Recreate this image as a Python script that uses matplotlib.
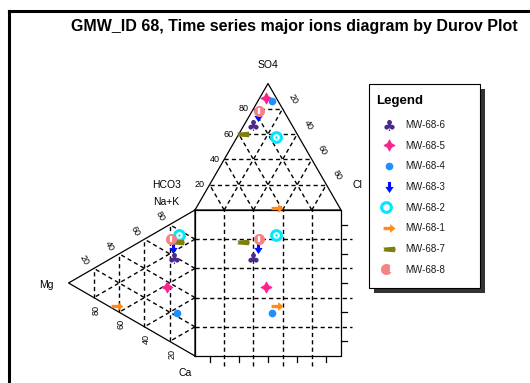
import numpy as np
import matplotlib
matplotlib.use('Agg')
import matplotlib.pyplot as plt
from matplotlib.lines import Line2D
from matplotlib.patches import Rectangle
from matplotlib.path import Path
from matplotlib.legend_handler import HandlerTuple

plt.rcParams['font.family'] = ['Liberation Sans', 'DejaVu Sans']

# samples in legend order
samples = ['MW-68-6', 'MW-68-5', 'MW-68-4', 'MW-68-3', 'MW-68-2', 'MW-68-1', 'MW-68-7', 'MW-68-8']
# cations (% meq/l)
ca  = [24.6, 41.7, 63.8, 17.0, 10.6, 34.6, 15.1, 10.4]
mg  = [16.9, 22.4, 14.0, 17.6, 12.9, 61.9, 13.2, 19.0]
nak = [58.5, 35.9, 22.2, 65.4, 76.5,  3.5, 71.7, 70.6]
# anions (% meq/l)
hco3 = [26.5,  7.0,  4.2, 19.8, 15.4, 42.9, 37.0, 17.3]
so4  = [67.2, 88.8, 86.2, 74.6, 57.8,  1.8, 59.9, 78.3]
cl   = [ 6.3,  4.2,  9.6,  5.6, 26.8, 55.3,  3.1,  4.4]

grid_vals = [20, 40, 60, 80]
minor_vals = [10, 30, 50, 70, 90]
title = 'GMW_ID 68, Time series major ions diagram by Durov Plot'

H = np.sqrt(3) / 2


def anion_xy(s, c):
    # top triangle: HCO3 lower left, Cl lower right, SO4 apex
    return c + s / 2.0, 100 + s * H


def cation_xy(m, n):
    # left triangle: Ca bottom, Na+K top, Mg apex on the left
    return -m * H, n + m / 2.0


def poly(verts):
    verts = list(verts) + [verts[0]]
    codes = [Path.MOVETO] + [Path.LINETO] * (len(verts) - 2) + [Path.CLOSEPOLY]
    return Path(verts, codes)


arrow_right = poly([(-1, 0.28), (0.1, 0.28), (0.1, 0.75), (1, 0), (0.1, -0.75), (0.1, -0.28), (-1, -0.28)])
arrow_down = poly([(-0.28, 1), (0.28, 1), (0.28, 0.1), (0.75, 0.1), (0, -1), (-0.75, 0.1), (-0.28, 0.1)])
pill = poly([(-1, -0.3), (0.85, -0.45), (1, 0), (0.85, 0.45), (-1, 0.3), (-0.8, 0)])

styles = [
    [dict(marker='$\u2663$', color='#4b2a8c', ms=8, mew=0)],
    [dict(marker=(4, 1, 0), color='#ff1f8f', ms=8, mew=0.6)],
    [dict(marker='o', color='#1e8fff', ms=5.5, mew=0)],
    [dict(marker=arrow_down, color='#0010ff', ms=8, mew=0)],
    [dict(marker='o', mfc='white', mec='#00e8ff', ms=7, mew=2.2),
     dict(marker='o', color='#00e8ff', ms=1.8, mew=0)],
    [dict(marker=arrow_right, color='#ff8c1a', ms=8.5, mew=0)],
    [dict(marker=pill, color='#7f7f10', ms=9, mew=0)],
    [dict(marker='o', color='#f48484', ms=8, mew=0),
     dict(marker='|', color='white', ms=4.5, mew=1.6)],
]

W, Hpx = 530, 383
sc = 1.46  # pixels per percent
fig = plt.figure(figsize=(W / 100, Hpx / 100), dpi=100)
ax = fig.add_axes([0, 0, 1, 1])
ax.set_xlim(-195 / sc, (W - 195) / sc)
ax.set_ylim((356 - Hpx) / sc, 356 / sc)
ax.axis('off')

solid = dict(color='black', lw=0.9)
dashed = dict(color='black', lw=1.0, ls=(0, (3, 2.3)))

# outlines
tx, ty = zip(anion_xy(0, 0), anion_xy(100, 0), anion_xy(0, 100), anion_xy(0, 0))
ax.plot(tx, ty, **solid)
lx, ly = zip(cation_xy(0, 0), cation_xy(100, 0), cation_xy(0, 100), cation_xy(0, 0))
ax.plot(lx, ly, **solid)
ax.plot([0, 100, 100, 0, 0], [0, 0, 100, 100, 0], **solid)

# ternary grids
for v in grid_vals:
    for a, b in [((v, 0), (v, 100 - v)), ((0, v), (100 - v, v)), ((0, 100 - v), (100 - v, 0))]:
        p, q = anion_xy(*a), anion_xy(*b)
        ax.plot([p[0], q[0]], [p[1], q[1]], **dashed)
        p, q = cation_xy(*a), cation_xy(*b)
        ax.plot([p[0], q[0]], [p[1], q[1]], **dashed)
    # square grid
    ax.plot([v, v], [-6.8, 100], **dashed)
    ax.plot([0, 107.5], [v, v], **dashed)

for v in minor_vals:
    ax.plot([v, v], [0, -4.1], **solid)
    ax.plot([100, 104.1], [v, v], **solid)

# tick labels
fs_t = 6.5
for v in grid_vals:
    x, y = anion_xy(v, 0)
    ax.text(x - 3.3, y, str(v), ha='right', va='center', fontsize=fs_t)
    x, y = anion_xy(100 - v, v)
    ax.text(x + 7.4, y + 6.4, str(v), ha='center', va='center', fontsize=fs_t, rotation=-60)
    x, y = cation_xy(100 - v, v)
    ax.text(x - 6.4, y + 5.5, str(v), ha='center', va='center', fontsize=fs_t, rotation=-60)
    x, y = cation_xy(v, 0)
    ax.text(x + 1.5, y - 8.3, str(v), ha='center', va='center', fontsize=fs_t, rotation=90)

# vertex labels
fs_v = 7.5
ax.text(50, 199.3, 'SO4', ha='center', va='center', fontsize=fs_v)
ax.text(111.6, 117.1, 'Cl', ha='center', va='center', fontsize=fs_v)
ax.text(-19.4, 117.1, 'HCO3', ha='center', va='center', fontsize=fs_v)
ax.text(-19.4, 105.7, 'Na+K', ha='center', va='center', fontsize=fs_v)
ax.text(-101.6, 48.6, 'Mg', ha='center', va='center', fontsize=fs_v)
ax.text(-6.8, -11.4, 'Ca', ha='center', va='center', fontsize=fs_v)

# samples: anion triangle, cation triangle and square projection
handles = []
for i in range(len(samples)):
    xa, ya = anion_xy(so4[i], cl[i])
    xc, yc = cation_xy(mg[i], nak[i])
    parts = []
    for st in styles[i]:
        ax.plot([xa, xc, xa], [ya, yc, yc], ls='none', zorder=5, **st)
        parts.append(Line2D([], [], ls='none', **st))
    handles.append(tuple(parts))

# title and frame
fig.text(294 / W, 1 - 26 / Hpx, title, ha='center', va='center', fontsize=11.5, weight='bold')
fig.add_artist(Line2D([8.5 / W, 1.02], [1 - 10.5 / Hpx] * 2, transform=fig.transFigure, color='black', lw=2.2))
fig.add_artist(Line2D([8.5 / W, 8.5 / W], [1 - 10.5 / Hpx, -0.02], transform=fig.transFigure, color='black', lw=2.2))

# legend box with shadow
lx0, ly0, lx1, ly1 = 368.5, 84, 480, 288
fig.add_artist(Rectangle(((lx0 + 5) / W, 1 - (ly1 + 5) / Hpx), (lx1 - lx0) / W, (ly1 - ly0) / Hpx,
                         transform=fig.transFigure, fc='#333333', ec='none'))
fig.add_artist(Rectangle((lx0 / W, 1 - ly1 / Hpx), (lx1 - lx0) / W, (ly1 - ly0) / Hpx,
                         transform=fig.transFigure, fc='white', ec='black', lw=0.8))
fig.text(376 / W, 1 - 101 / Hpx, 'Legend', ha='left', va='center', fontsize=9.5, weight='bold')
fig.legend(handles, samples, handler_map={tuple: HandlerTuple(ndivide=None)},
           loc='upper left', bbox_to_anchor=(384 / W, 1 - 120 / Hpx), frameon=False,
           fontsize=7, labelcolor='#1a1a1a', borderpad=0, borderaxespad=0,
           handlelength=1.0, handletextpad=1.2, labelspacing=1.1)

fig.savefig('out.png', dpi=100)
